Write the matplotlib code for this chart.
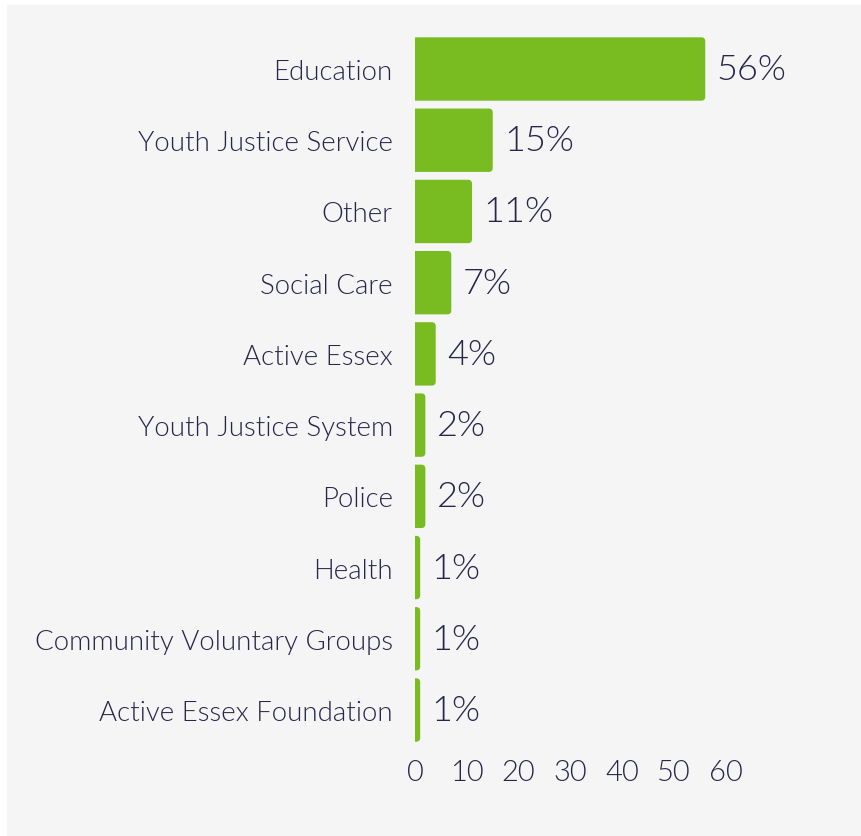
import matplotlib

matplotlib.use("Agg")
import matplotlib.pyplot as plt
from matplotlib.patches import FancyBboxPatch, Rectangle

categories = [
    "Education",
    "Youth Justice Service",
    "Other",
    "Social Care",
    "Active Essex",
    "Youth Justice System",
    "Police",
    "Health",
    "Community Voluntary Groups",
    "Active Essex Foundation",
]
values = [56, 15, 11, 7, 4, 2, 2, 1, 1, 1]
xticks = [0, 10, 20, 30, 40, 50, 60]

GREEN = "#78bc22"
INK = "#27264a"
PANEL = "#f5f5f5"

plt.rcParams["font.family"] = ["Lato", "DejaVu Sans"]
plt.rcParams["font.weight"] = 300

fig = plt.figure(figsize=(8.62, 8.37), dpi=100, facecolor="white")
# light grey card behind the chart
fig.patches.append(Rectangle((7 / 862, 0.5 / 837), 1, 1 - 6.5 / 837, transform=fig.transFigure,
                             facecolor=PANEL, edgecolor="none", zorder=-10))

ax = fig.add_axes([415 / 862, 1 - 746.6 / 837, 311 / 862, 712.2 / 837])
ax.set_facecolor("none")
ax.set_xlim(0, 60)
ax.set_ylim(len(categories) - 0.5, -0.5)

# bars with rounded right end; left end starts past x=0 and gets clipped flat
h = 0.89
px_x = 311 / 60      # pixels per x unit
px_y = 712.2 / 10    # pixels per y unit
r = 4 / px_x
for y, v in enumerate(values):
    box = FancyBboxPatch((-2, y - h / 2), v + 2, h,
                         boxstyle=f"round,pad=0,rounding_size={r}",
                         mutation_aspect=px_x / px_y,
                         facecolor=GREEN, edgecolor="none")
    ax.add_patch(box)
    ax.annotate(f"{v}%", (v, y), xytext=(8, 0), textcoords="offset points",
                va="center", ha="left", fontsize=26, color=INK)

ax.set_yticks(range(len(categories)), categories)
ax.set_xticks(xticks)
ax.tick_params(axis="y", length=0, pad=16, labelsize=19.9, labelcolor=INK)
ax.tick_params(axis="x", length=0, pad=10, labelsize=21, labelcolor=INK)
for s in ax.spines.values():
    s.set_visible(False)

fig.savefig("out.png", dpi=100, facecolor="white")
